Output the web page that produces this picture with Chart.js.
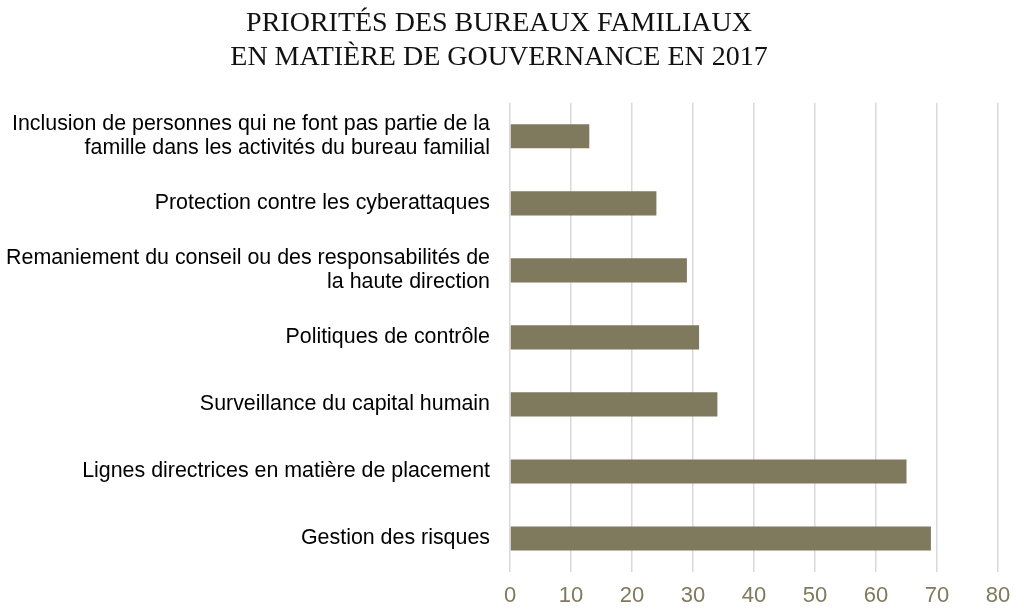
<!DOCTYPE html>
<html>
<head>
<meta charset="utf-8">
<script src="https://cdn.jsdelivr.net/npm/chart.js@4"></script>
<style>
html,body{margin:0;padding:0;background:#fff;}
#wrap{width:1024px;height:612px;position:relative;}
</style>
</head>
<body>
<div id="wrap"><canvas id="c"></canvas></div>
<script>
const titleLines = ["PRIORITÉS DES BUREAUX FAMILIAUX", "EN MATIÈRE DE GOUVERNANCE EN 2017"];
const categories = [
  ["Inclusion de personnes qui ne font pas partie de la", "famille dans les activités du bureau familial"],
  "Protection contre les cyberattaques",
  ["Remaniement du conseil ou des responsabilités de", "la haute direction"],
  "Politiques de contrôle",
  "Surveillance du capital humain",
  "Lignes directrices en matière de placement",
  "Gestion des risques"
];
const values = [13, 24, 29, 31, 34, 65, 69];
const axisMin = 0, axisMax = 80, axisStep = 10;

new Chart(document.getElementById('c'), {
  type: 'bar',
  data: {
    labels: categories,
    datasets: [{
      data: values,
      backgroundColor: '#7f795e',
      borderWidth: 0,
      barPercentage: 0.36,
      categoryPercentage: 1.0
    }]
  },
  options: {
    indexAxis: 'y',
    responsive: true,
    maintainAspectRatio: false,
    animation: false,
    layout: { padding: { left: 0, right: 26, top: 0, bottom: 0 } },
    plugins: {
      legend: { display: false },
      tooltip: { enabled: false },
      title: {
        display: true,
        text: titleLines,
        color: '#111',
        font: { family: '"Liberation Serif", "DejaVu Serif", serif', size: 28, weight: 'normal', lineHeight: 1.21 },
        padding: { top: 7, bottom: 28 }
      }
    },
    scales: {
      x: {
        min: axisMin, max: axisMax,
        afterFit: (s) => { s.height = 40; },
        ticks: { stepSize: axisStep, color: '#7f795e', padding: 11,
          font: { family: '"Liberation Sans", Arial, sans-serif', size: 22, lineHeight: 1.2 } },
        grid: { color: '#d9d9d9', lineWidth: 1.5, drawTicks: false },
        border: { display: false }
      },
      y: {
        afterFit: (s) => { s.width = 510; s.paddingTop = 0; s.paddingBottom = 0; },
        ticks: { color: '#000', padding: 20,
          font: { family: '"Liberation Sans", Arial, sans-serif', size: 21.4, lineHeight: 1.12 } },
        grid: { display: false, drawTicks: false },
        border: { display: false }
      }
    }
  }
});
</script>
</body>
</html>
